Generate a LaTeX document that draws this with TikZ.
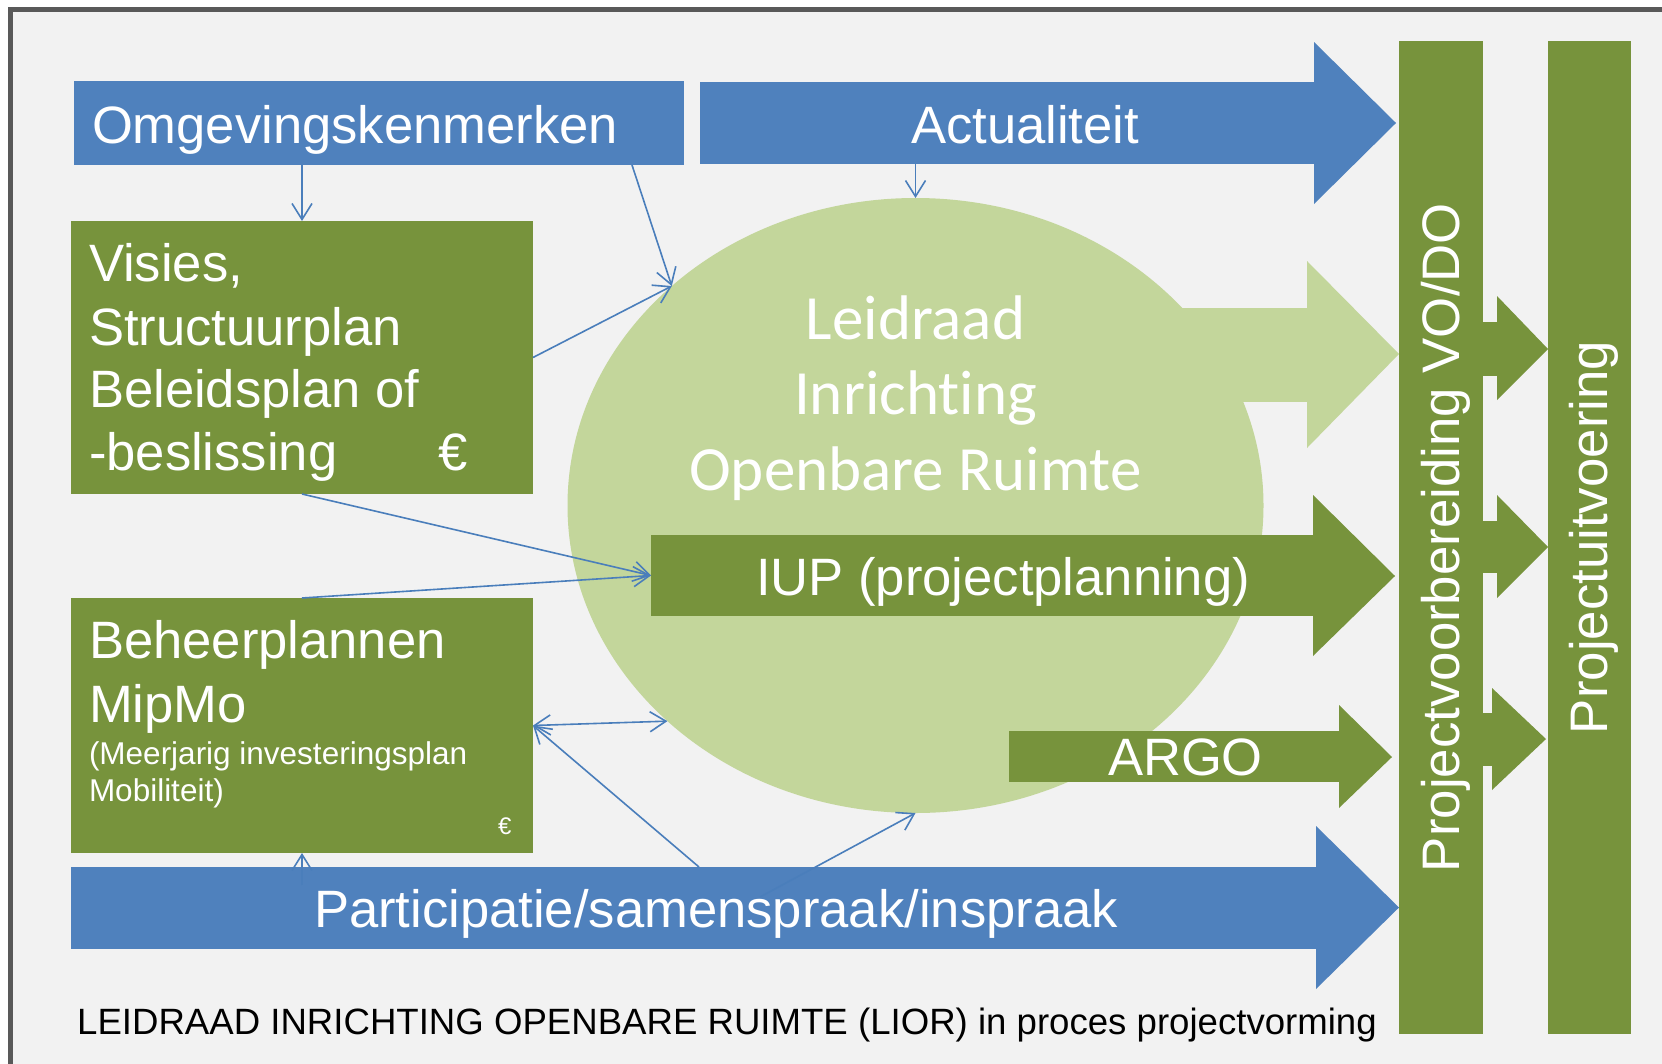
\documentclass[tikz,border=0pt]{standalone}
\usepackage{fontspec}
\setmainfont{Liberation Sans}
\newfontfamily\calib[Ligatures={NoCommon}]{Carlito}
\usetikzlibrary{arrows.meta,shapes.geometric,calc}
\definecolor{bblue}{HTML}{4F81BD}
\definecolor{bgreen}{HTML}{77933C}
\definecolor{lgreen}{HTML}{C3D69B}
\definecolor{bggray}{HTML}{F2F2F2}
\definecolor{framegray}{HTML}{595959}
\definecolor{cblue}{HTML}{4A7EBB}
\begin{document}
\begin{tikzpicture}[x=1pt,y=-1pt,
  box/.style={rectangle,inner sep=0pt,outer sep=0pt,draw=none},
  bluebox/.style={box,fill=bblue},
  greenbox/.style={box,fill=bgreen},
  bigtxt/.style={text=white,font=\fontsize{52.6}{63}\selectfont,inner sep=0pt,outer sep=0pt,anchor=base west},
  smalltxt/.style={text=white,font=\fontsize{31.5}{36}\selectfont,inner sep=0pt,outer sep=0pt,anchor=base west},
  liortxt/.style={text=white,font=\calib\fontsize{63}{76}\selectfont,inner sep=0pt,outer sep=0pt,anchor=base},
  bartxt/.style={text=white,font=\fontsize{52.8}{63}\selectfont,inner sep=0pt,outer sep=0pt,anchor=base,rotate=90},
  conn/.style={draw=cblue,line width=1.6pt,-{Straight Barb[length=16pt,width=20pt]}},
  dconn/.style={draw=cblue,line width=1.6pt,{Straight Barb[length=16pt,width=20pt]}-{Straight Barb[length=16pt,width=20pt]}}
]
\useasboundingbox (0,0) rectangle (1662,1063);
\filldraw[fill=bggray,draw=framegray,line width=5pt] (10.5,9.5) rectangle (1720,1120);

% ellipse
\node[ellipse,fill=lgreen,minimum width=696pt,minimum height=615pt,inner sep=0pt,outer sep=0pt] (lior) at (915.5,505.5) {};
\node[box,fill=lgreen,minimum width=208pt,minimum height=94pt] (lgbody) at (1204,355) {};
\fill[lgreen] (1307,261) -- (1399,354) -- (1307,448) -- cycle;

% blue top boxes
\node[bluebox,minimum width=610pt,minimum height=84pt] (omg) at (379,123) {};
\node[bluebox,minimum width=615pt,minimum height=82pt] (act) at (1007.5,123) {};
\fill[bblue] (1314,42) -- (1396,123) -- (1314,204) -- cycle;

% green boxes left
\node[greenbox,minimum width=462pt,minimum height=273pt] (visies) at (302,357.5) {};
\node[greenbox,minimum width=462pt,minimum height=255pt] (beheer) at (302,725.5) {};

% IUP
\node[greenbox,minimum width=663pt,minimum height=81pt] (iup) at (982.5,575.5) {};
\fill[bgreen] (1313,495) -- (1395,576) -- (1313,656) -- cycle;
% ARGO
\node[greenbox,minimum width=331pt,minimum height=51pt] (argo) at (1174.5,756.5) {};
\fill[bgreen] (1339,705) -- (1392,757) -- (1339,808) -- cycle;
% Participatie
\node[bluebox,minimum width=1247pt,minimum height=82pt] (part) at (694.5,908) {};
\fill[bblue] (1316,826) -- (1399,907.5) -- (1316,989) -- cycle;

% vertical bars
\node[greenbox,minimum width=84pt,minimum height=993pt] (vodo) at (1441,537.5) {};
\node[greenbox,minimum width=83pt,minimum height=993pt] (uitv) at (1589.5,537.5) {};
\fill[bgreen] (1482,322) rectangle (1498,376);
\fill[bgreen] (1497,296) -- (1548,349) -- (1497,400) -- cycle;
\fill[bgreen] (1482,521) rectangle (1498,573);
\fill[bgreen] (1497,495) -- (1548,547) -- (1497,598) -- cycle;
\fill[bgreen] (1482,713) rectangle (1493,766);
\fill[bgreen] (1492,688) -- (1546,739) -- (1492,790) -- cycle;

% texts
\node[bigtxt] (tomg) at (92,143) {Omgevingskenmerken};
\node[bigtxt] (tact) at (911,143) {Actualiteit};
\node[bigtxt] (tv1) at (89,281) {Visies,};
\node[bigtxt] (tv2) at (89,345) {Structuurplan};
\node[bigtxt] (tv3) at (89,407) {Beleidsplan of};
\node[bigtxt] (tv4) at (89,470) {-beslissing};
\node[bigtxt] (tv5) at (438,470) {€};
\node[bigtxt] (tb1) at (89,658) {Beheerplannen};
\node[bigtxt] (tb2) at (89,722) {MipMo};
\node[smalltxt] (tb3) at (89,764) {(Meerjarig investeringsplan};
\node[smalltxt] (tb4) at (89,801) {Mobiliteit)};
\node[text=white,font=\fontsize{24}{28}\selectfont,inner sep=0pt,anchor=base west] (tb5) at (498,834) {€};
\node[liortxt] (tl1) at (915.5,339) {Leidraad};
\node[liortxt] (tl2) at (915.5,414) {Inrichting};
\node[liortxt] (tl3) at (915.5,490) {Openbare Ruimte};
\node[bigtxt] (tiup) at (756,595) {IUP (projectplanning)};
\node[bigtxt] (targo) at (1108,775) {ARGO};
\node[bigtxt] (tpart) at (314,927) {Participatie/samenspraak/inspraak};
\node[bartxt] (tvodo) at (1459,537.5) {Projectvoorbereiding VO/DO};
\node[bartxt] (tuitv) at (1607,537.5) {Projectuitvoering};
\node[text=black,font=\fontsize{36.6}{40}\selectfont,inner sep=0pt,anchor=base west] (cap) at (77,1034) {LEIDRAAD INRICHTING OPENBARE RUIMTE (LIOR) in proces projectvorming};

% connectors
\coordinate (p0) at (302,885);
\coordinate (p1) at ([xshift=628pt]part.north west);
\coordinate (p2) at (760,897);
\draw[conn] (visies.north |- omg.south) -- (visies.north);
\draw[conn] ([xshift=-52pt]omg.south east) -- (lior.138);
\draw[conn] (visies.east) -- (lior.138);
\draw[conn] (lior.north |- act.south) -- (lior.north);
\draw[conn] (visies.south) -- (iup.west);
\draw[conn] (beheer.north) -- (iup.west);
\draw[dconn] (beheer.east) -- (lior.221);
\draw[conn] (p1) -- (beheer.east);
\draw[conn] (p2) -- (lior.south);
\draw[conn] (p0) -- (beheer.south);
\end{tikzpicture}
\end{document}
